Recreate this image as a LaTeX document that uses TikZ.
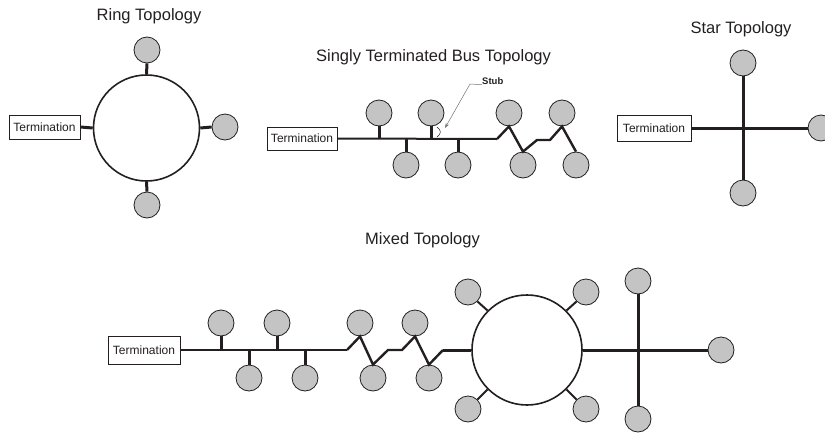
\documentclass[tikz,border=0pt]{standalone}
\usepackage{fontspec}
\setmainfont{Liberation Sans}
\usetikzlibrary{arrows.meta}
\definecolor{nodegray}{RGB}{196,196,196}
\definecolor{ink}{RGB}{35,31,32}
\begin{document}
\begin{tikzpicture}[x=1pt,y=-1pt,
  nd/.style={circle,draw=ink,fill=nodegray,minimum size=26pt,inner sep=0pt,line width=0.8pt},
  ringnd/.style={circle,draw=ink,fill=white,inner sep=0pt,line width=1.6pt},
  term/.style={draw=ink,line width=0.8pt,minimum width=72pt,minimum height=25pt,inner sep=0pt,font=\fontsize{12}{14}\selectfont,text=ink},
  ttl/.style={font=\fontsize{16.5}{19}\selectfont,text=ink,inner sep=0pt},
  stubl/.style={draw=ink,line width=3pt},
  busl/.style={draw=ink,line width=2pt},
  zigl/.style={draw=ink,line width=2.4pt,line join=miter},
  starl/.style={draw=ink,line width=3pt},
]
\useasboundingbox (0,0) rectangle (825,434);

% ---------------- Ring topology ----------------
\node[ttl] (t1) at (149,16) {Ring Topology};
\node[ringnd,minimum size=106pt] (r1) at (146.5,128) {};
\node[nd] (r1n) at (147,50) {};
\node[nd] (r1e) at (225,127) {};
\node[nd] (r1s) at (147,205) {};
\node[term,minimum width=71pt,minimum height=24pt] (r1t) at (44.5,127) {Termination};
\draw[stubl] (r1n.south) -- (r1.north);
\draw[stubl] (r1e.west) -- (r1.east);
\draw[stubl] (r1s.north) -- (r1.south);
\draw[stubl] (r1t.east) -- (r1.west);

% ---------------- Singly terminated bus ----------------
\node[ttl] (t2) at (433.5,57) {Singly Terminated Bus Topology};
\node[term,minimum width=70pt,minimum height=23pt] (bt) at (302,138.5) {Termination};
\node[nd] (bu1) at (379,113) {};
\node[nd] (bu2) at (431,113) {};
\node[nd] (bl1) at (406,165) {};
\node[nd] (bl2) at (458,165) {};
\node[nd] (bu3) at (509,113) {};
\node[nd] (bl3) at (523,165) {};
\node[nd] (bu4) at (562,113) {};
\node[nd] (bl4) at (576,165) {};
\coordinate (bj1) at (379,139);
\coordinate (bj2) at (431,139);
\coordinate (bj3) at (406,139);
\coordinate (bj4) at (458,139);
\coordinate (bz1) at (497,139);
\coordinate (bz2) at (537,140);
\coordinate (bz3) at (550,140);
\draw[busl] (bt.east) -- (bz1);
\draw[stubl] (bu1.south) -- (bj1);
\draw[stubl] (bu2.south) -- (bj2);
\draw[stubl] (bl1.north) -- (bj3);
\draw[stubl] (bl2.north) -- (bj4);
\draw[zigl] (bz1) -- (bu3.south) -- (bl3.north) -- (bz2) -- (bz3) -- (bu4.south) -- (bl4.north);
% stub annotation
\node[font=\bfseries\fontsize{9.5}{11}\selectfont,text=ink,inner sep=0pt,anchor=west] (stub) at (482,81) {Stub};
\coordinate (sk) at (470,84);
\coordinate (sa) at (445,128);
\draw[draw=black!55,line width=0.5pt,-{Stealth[length=5pt,width=3.5pt]}] (stub.south west) -- (sk) -- (sa);
\coordinate (br1) at (437,127);
\coordinate (br2) at (437,137);
\draw[draw=ink,line width=0.5pt] (br1) .. controls (441.5,130) and (441.5,134) .. (br2);

% ---------------- Star topology ----------------
\node[ttl] (t3) at (741,29) {Star Topology};
\node[term,minimum width=74pt,minimum height=26pt] (st) at (654,128) {Termination};
\node[nd] (sn) at (743,63) {};
\node[nd] (ss) at (743,193) {};
\node[nd] (se) at (821,128) {};
\draw[starl] (st.east) -- (se.west);
\draw[starl] (sn.south) -- (ss.north);

% ---------------- Mixed topology ----------------
\node[ttl] (t4) at (422.5,240) {Mixed Topology};
\node[term,minimum width=72pt,minimum height=28pt] (mt) at (144,350) {Termination};
\node[nd] (mu1) at (221,323) {};
\node[nd] (mu2) at (277,323) {};
\node[nd] (ml1) at (249,378) {};
\node[nd] (ml2) at (305,378) {};
\node[nd] (mu3) at (360,323) {};
\node[nd] (ml3) at (373,378) {};
\node[nd] (mu4) at (415,323) {};
\node[nd] (ml4) at (429,378) {};
\coordinate (mj1) at (221,350);
\coordinate (mj2) at (277,350);
\coordinate (mj3) at (249,350);
\coordinate (mj4) at (305,350);
\coordinate (mz1) at (347,350);
\coordinate (mz2) at (388,350);
\coordinate (mz3) at (402,350);
\coordinate (mz4) at (443,350);
\draw[busl] (mt.east) -- (mz1);
\draw[stubl] (mu1.south) -- (mj1);
\draw[stubl] (mu2.south) -- (mj2);
\draw[stubl] (ml1.north) -- (mj3);
\draw[stubl] (ml2.north) -- (mj4);
\draw[zigl] (mz1) -- (mu3.south) -- (ml3.north) -- (mz2) -- (mz3) -- (mu4.south) -- (ml4.north) -- (mz4);
\node[ringnd,minimum size=110pt] (mr) at (527,350) {};
\draw[starl] (mz4) -- (mr.west);
\node[nd] (mrnw) at (468,292) {};
\node[nd] (mrne) at (586,292) {};
\node[nd] (mrsw) at (468,409) {};
\node[nd] (mrse) at (586,409) {};
\draw[busl] (mrnw.-45) -- (mr.135);
\draw[busl] (mrne.-135) -- (mr.45);
\draw[busl] (mrsw.45) -- (mr.-135);
\draw[busl] (mrse.135) -- (mr.-45);
\node[nd] (msn) at (638,281) {};
\node[nd] (mss) at (638,419) {};
\node[nd] (mse) at (721,350) {};
\draw[starl] (mr.east) -- (mse.west);
\draw[starl] (msn.south) -- (mss.north);
\end{tikzpicture}
\end{document}
